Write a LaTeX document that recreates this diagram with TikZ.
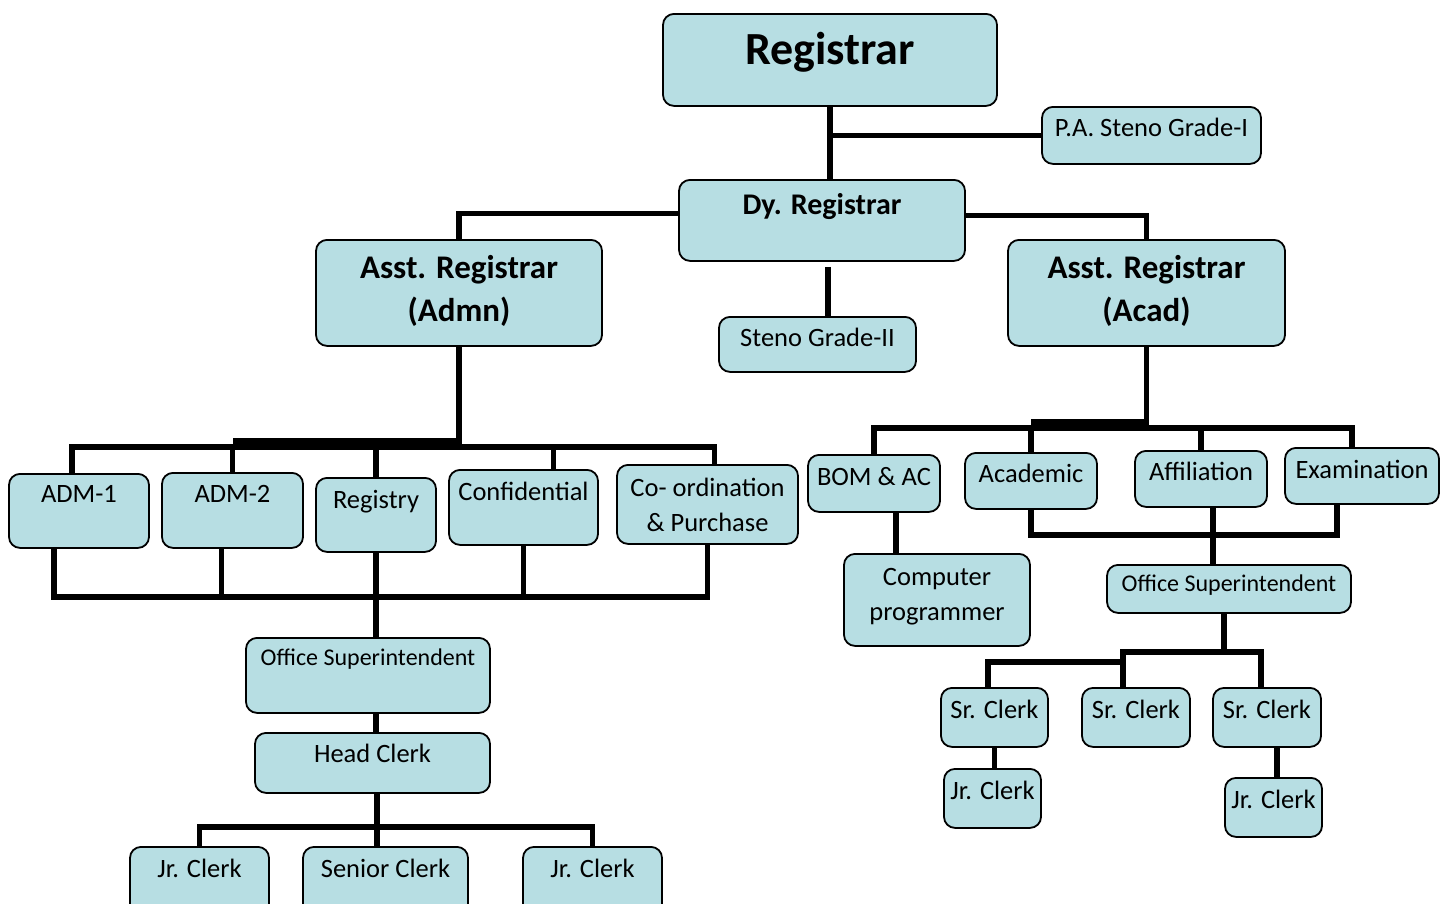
\documentclass[tikz,border=0pt]{standalone}
\usepackage{fontspec}
\setmainfont{Carlito}
\definecolor{boxblue}{RGB}{183,222,227}
\newcommand{\twoline}[2]{\begin{tabular}[t]{@{}c@{}}#1\\#2\end{tabular}}
\tikzset{
  box/.style={draw, line width=1.8pt, rounded corners=11pt, fill=boxblue, anchor=north, inner sep=0pt},
  wh/.style n args={3}{minimum width=#1pt, text height=#2pt, text depth=#3pt},
  big/.style={font=\bfseries\fontsize{46}{52}\selectfont},
  mid/.style={font=\bfseries\fontsize{33}{43}\selectfont},
  dyf/.style={font=\bfseries\fontsize{30}{36}\selectfont},
  txt/.style={font=\fontsize{26.5}{34.5}\selectfont},
  sml/.style={font=\fontsize{24}{30}\selectfont},
  conn/.style={line width=5.5pt}
}
\begin{document}
\begin{tikzpicture}[x=1pt,y=-1pt]
\clip (0,0) rectangle (1448,903);

\node[box, wh={334}{51}{41}, big] (reg) at (830,13) {Registrar};
\node[box, wh={219}{30}{27}, txt] (pa) at (1151.5,106) {P.A. Steno Grade-I};
\node[box, wh={286}{35}{46}, dyf] (dy) at (822,179) {Dy. Registrar};
\node[box, wh={286}{39}{67}, mid] (aradmn) at (459,239) {\twoline{Asst. Registrar}{(Admn)}};
\node[box, wh={277}{39}{67}, mid] (aracad) at (1146.5,239) {\twoline{Asst. Registrar}{(Acad)}};
\node[box, wh={197}{30}{25}, txt] (steno) at (817.5,316) {Steno Grade-II};

\node[box, wh={140}{29}{45}, txt] (adma) at (79,473) {ADM-1};
\node[box, wh={141}{30}{45}, txt] (admb) at (232.5,472) {ADM-2};
\node[box, wh={120}{31}{43}, txt] (regy) at (376,477) {Registry};
\node[box, wh={149}{31}{44}, txt] (conf) at (523.5,469) {Confidential};
\node[box, wh={181}{32}{47}, txt] (coord) at (707.5,464) {\twoline{Co- ordination}{\& Purchase}};
\node[box, wh={244}{28}{47}, sml] (osupl) at (368,637) {Office Superintendent};
\node[box, wh={235}{30}{30}, txt] (head) at (372.5,732) {Head Clerk};
\node[box, wh={139}{31}{39}, txt] (jrcc) at (199.5,846) {Jr. Clerk};
\node[box, wh={165}{31}{39}, txt] (senc) at (385.5,846) {Senior Clerk};
\node[box, wh={139}{31}{39}, txt] (jrcd) at (592.5,846) {Jr. Clerk};

\node[box, wh={132}{31}{26}, txt] (bom) at (874,454) {BOM \& AC};
\node[box, wh={132}{30}{26}, txt] (acdm) at (1031,452) {Academic};
\node[box, wh={132}{30}{26}, txt] (affl) at (1201,450) {Affiliation};
\node[box, wh={154}{31}{25}, txt] (exam) at (1362,447) {Examination};
\node[box, wh={186}{32}{60}, txt] (comp) at (937,553) {\twoline{Computer}{programmer}};
\node[box, wh={244}{27}{21}, sml] (osupr) at (1229,564) {Office Superintendent};
\node[box, wh={107}{31}{28}, txt] (srca) at (994.5,687) {Sr. Clerk};
\node[box, wh={108}{31}{28}, txt] (srcb) at (1136,687) {Sr. Clerk};
\node[box, wh={108}{31}{28}, txt] (srcc) at (1267,687) {Sr. Clerk};
\node[box, wh={97}{31}{28}, txt] (jrca) at (992.5,768) {Jr. Clerk};
\node[box, wh={97}{31}{28}, txt] (jrcb) at (1273.5,777) {Jr. Clerk};

\draw[conn] (reg.south) -- (reg.south |- dy.north);
\draw[conn] (reg.south |- pa.west) -- (pa.west);
\draw[conn] ([yshift=7pt]dy.west) -| (aradmn.north);
\draw[conn] ([yshift=5pt]dy.east) -| (aracad.north);
\draw[conn] ([xshift=6pt,yshift=-5pt]dy.south) -- ([xshift=6pt]dy.south |- steno.north);

\coordinate (lbar) at (459,447);
\draw[conn] (aradmn.south) -- (lbar);
\draw[conn] ([xshift=-7pt]adma.north) |- (lbar) -| ([xshift=7pt]coord.north);
\draw[conn] ([yshift=6pt]lbar) -- ([yshift=6pt]lbar -| admb.north);
\draw[conn] (admb.north) -- (admb.north |- lbar);
\draw[conn] (regy.north) -- (regy.north |- lbar);
\draw[conn] ([xshift=30pt]conf.north) -- ([xshift=30pt]conf.north |- lbar);
\coordinate (lbot) at (376,597);
\draw[conn] ([xshift=-25pt]adma.south) |- (lbot) -| (coord.south);
\draw[conn] ([xshift=-11pt]admb.south) -- ([xshift=-11pt]admb.south |- lbot);
\draw[conn] (conf.south) -- (conf.south |- lbot);
\draw[conn] (regy.south) -- (regy.south |- osupl.north);
\draw[conn] (regy.south |- osupl.south) -- (regy.south |- head.north);
\coordinate (hbar) at (377,827);
\draw[conn] (head.south -| hbar) -- (hbar);
\draw[conn] (jrcc.north) |- (hbar) -| (jrcd.north);
\draw[conn] (hbar) -- (hbar |- senc.north);

\coordinate (rbar) at (1148,428);
\draw[conn] (aracad.south) -- (aracad.south |- rbar);
\draw[conn] (bom.north) |- (rbar) -| ([xshift=-10pt]exam.north);
\draw[conn] ([yshift=6pt]rbar) -- ([yshift=6pt]rbar -| acdm.north);
\draw[conn] (acdm.north) -- (acdm.north |- rbar);
\draw[conn] (affl.north) -- (affl.north |- rbar);
\draw[conn] ([xshift=22pt]bom.south) -- ([xshift=22pt]bom.south |- comp.north);
\coordinate (rbot) at (1213,535);
\draw[conn] (acdm.south) |- (rbot) -| ([xshift=-25pt]exam.south);
\draw[conn] (rbot |- affl.south) -- (rbot |- osupr.north);
\coordinate (sbar) at (1123,652);
\draw[conn] ([xshift=-5pt]osupr.south) -- ([xshift=-5pt]osupr.south |- sbar);
\draw[conn] (srcb.north -| sbar) -- (sbar) -| ([xshift=-6pt]srcc.north);
\draw[conn] ([xshift=-6.5pt]srca.north) |- ([yshift=-10pt]sbar);
\draw[conn] (srca.south) -- (srca.south |- jrca.north);
\draw[conn] ([xshift=10pt]srcc.south) -- ([xshift=10pt]srcc.south |- jrcb.north);
\end{tikzpicture}
\end{document}
